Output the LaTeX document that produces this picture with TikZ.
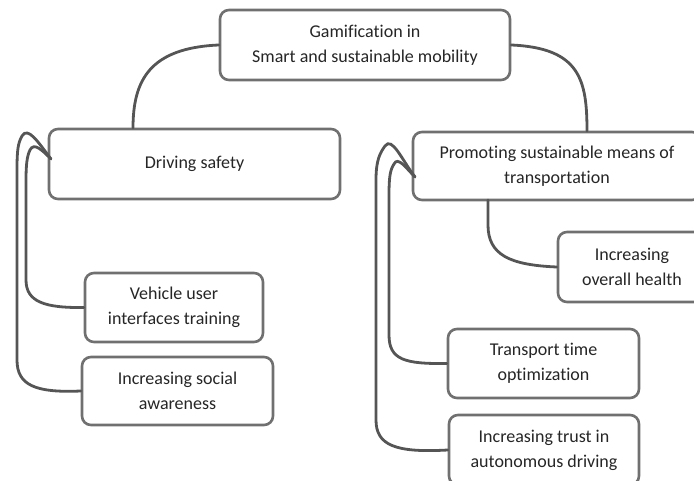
\documentclass[tikz,border=0pt]{standalone}
\usepackage{fontspec}
\setmainfont[Ligatures=NoCommon]{Carlito}
\begin{document}
\begin{tikzpicture}[x=1pt,y=-1pt,
  topic/.style={draw=boxgray, line width=2.6pt, rounded corners=9pt, fill=white,
    align=center, inner sep=0pt, font=\fontsize{18}{25}\selectfont, text=black!85},
  link/.style={draw=linkgray, line width=2.8pt, line cap=round}]
\definecolor{boxgray}{HTML}{707070}
\definecolor{linkgray}{HTML}{555555}
\useasboundingbox (0,0) rectangle (694,481);
\begin{scope}
\clip (0,0) rectangle (694,481);

% free ends of the hooked connectors
\coordinate (dsL) at (51,159);
\coordinate (prL) at (415,177);
\coordinate (prB) at (488,200);

% boxes
\node[topic, minimum width=290pt, minimum height=70pt] (root) at (365,45)
  {Gamification in\\Smart and sustainable mobility};
\node[topic, minimum width=291pt, minimum height=70pt] (ds) at (194.5,164)
  {Driving safety};
\node[topic, minimum width=288pt, minimum height=68pt] (pr) at (557,166)
  {Promoting sustainable means of\\transportation};
\node[topic, minimum width=148pt, minimum height=70pt] (hl) at (632,267)
  {Increasing\\overall health};
\node[topic, minimum width=178pt, minimum height=69pt] (vu) at (174,307.5)
  {Vehicle user\\interfaces training};
\node[topic, minimum width=191pt, minimum height=68pt] (sa) at (177.5,391)
  {Increasing social\\awareness};
\node[topic, minimum width=191pt, minimum height=69pt] (tt) at (543.5,363.5)
  {Transport time\\optimization};
\node[topic, minimum width=190pt, minimum height=70pt] (at) at (544,450)
  {Increasing trust in\\autonomous driving};
\end{scope}

% root to main branches
\draw[link] (root.west) .. controls (150,48) and (133,80) .. (133,128);
\draw[link] (root.east) .. controls (580,48) and (587,80) .. (587,131);

% driving safety sub-branches
\draw[link] (dsL) .. controls (38,142) and (28,126) .. (22,136)
  .. controls (18,143) and (17,150) .. (17,170) -- (17,360)
  .. controls (17,385) and (35,393) .. (sa.west);
\draw[link] (dsL) .. controls (42,150) and (34,142) .. (30,150)
  .. controls (27,156) and (26,165) .. (26,180) -- (26,280)
  .. controls (26,302) and (45,308) .. (vu.west);

% promoting sub-branches
\draw[link] (prL) .. controls (402,160) and (392,136) .. (385,146)
  .. controls (380,153) and (376,160) .. (376,180) -- (376,420)
  .. controls (376,445) and (395,453) .. (at.west);
\draw[link] (prL) .. controls (406,168) and (398,156) .. (394,164)
  .. controls (390,170) and (389,178) .. (389,195) -- (389,335)
  .. controls (389,360) and (405,364) .. (tt.west);
\draw[link] (prB) -- (488,225) .. controls (488,255) and (510,265) .. (hl.west);
\end{tikzpicture}
\end{document}
